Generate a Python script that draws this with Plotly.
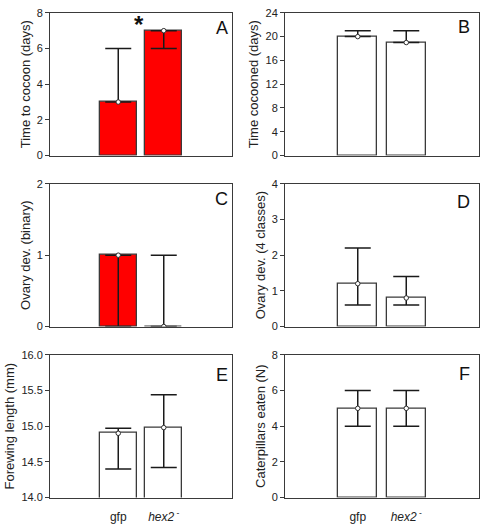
import plotly.graph_objects as go

# ---- data ----
groups = [1, 2]
group_labels = ["gfp", "<i>hex2</i><sup> -</sup>"]

cocoon_time = [3, 7]
cocoon_time_lo = [3, 6]
cocoon_time_hi = [6, 7]

time_cocooned = [20, 19]
time_cocooned_lo = [20, 19]
time_cocooned_hi = [21, 21]

ovary_binary = [1, 0]
ovary_binary_lo = [0, 0]
ovary_binary_hi = [1, 1]

ovary_classes = [1.2, 0.8]
ovary_classes_lo = [0.6, 0.6]
ovary_classes_hi = [2.2, 1.4]

forewing = [14.9, 14.98]
forewing_lo = [14.4, 14.42]
forewing_hi = [14.97, 15.44]

caterpillars = [5, 5]
caterpillars_lo = [4, 4]
caterpillars_hi = [6, 6]

panels = [
    dict(letter="A", y=cocoon_time, lo=cocoon_time_lo, hi=cocoon_time_hi,
         title="Time to cocoon (days)", rng=[0, 8], ticks=[0, 2, 4, 6, 8], fmt="", fill="#ff0000", ly=15.5),
    dict(letter="B", y=time_cocooned, lo=time_cocooned_lo, hi=time_cocooned_hi,
         title="Time cocooned (days)", rng=[0, 24], ticks=[0, 4, 8, 12, 16, 20, 24], fmt="", fill="#ffffff", ly=14.5),
    dict(letter="C", y=ovary_binary, lo=ovary_binary_lo, hi=ovary_binary_hi,
         title="Ovary dev. (binary)", rng=[0, 2], ticks=[0, 1, 2], fmt="", fill="#ff0000", ly=16),
    dict(letter="D", y=ovary_classes, lo=ovary_classes_lo, hi=ovary_classes_hi,
         title="Ovary dev. (4 classes)", rng=[0, 4], ticks=[0, 1, 2, 3, 4], fmt="", fill="#ffffff", ly=18.5),
    dict(letter="E", y=forewing, lo=forewing_lo, hi=forewing_hi,
         title="Forewing length (mm)", rng=[14, 16], ticks=[14.0, 14.5, 15.0, 15.5, 16.0], fmt=".1f", fill="#ffffff", ly=20.5),
    dict(letter="F", y=caterpillars, lo=caterpillars_lo, hi=caterpillars_hi,
         title="Caterpillars eaten (N)", rng=[0, 8], ticks=[0, 2, 4, 6, 8], fmt="", fill="#ffffff", ly=20),
]

W, H = 483, 525
col_px = [(50, 232), (285, 479)]
row_px = [(7, 153), (182, 328), (357, 503)]
letter_right = [229, 471]

fig = go.Figure()
line_col = "#3a3a3a"
FONT = "Liberation Sans, Arial, sans-serif"

for i, p in enumerate(panels):
    r, c = divmod(i, 2)
    n = i + 1
    xa = "x" if n == 1 else f"x{n}"
    ya = "y" if n == 1 else f"y{n}"
    err_plus = [h - v for h, v in zip(p["hi"], p["y"])]
    err_minus = [v - l for v, l in zip(p["y"], p["lo"])]
    fig.add_trace(go.Bar(
        x=groups, y=p["y"], width=0.81, xaxis=xa, yaxis=ya,
        marker=dict(color=p["fill"], line=dict(color=line_col, width=1.3)),
        showlegend=False,
    ))
    fig.add_trace(go.Scatter(
        x=groups, y=p["y"], xaxis=xa, yaxis=ya, mode="markers",
        marker=dict(symbol="circle", size=4.5, color="white", line=dict(color="#303030", width=1)),
        error_y=dict(type="data", symmetric=False, array=err_plus, arrayminus=err_minus,
                     color="#1a1a1a", thickness=1.5, width=13),
        showlegend=False,
    ))
    x0, x1 = col_px[c]
    y0, y1 = row_px[r]
    xkey = "xaxis" if n == 1 else f"xaxis{n}"
    ykey = "yaxis" if n == 1 else f"yaxis{n}"
    fig.layout[xkey] = dict(
        domain=[x0 / W, x1 / W], anchor=ya, range=[-0.5, 3.5],
        tickvals=groups, ticktext=group_labels, showticklabels=(r == 2),
        ticks="", ticklabelstandoff=8, showgrid=False, zeroline=False, showline=True, mirror=True,
        linecolor=line_col, linewidth=1, fixedrange=True,
        tickfont=dict(size=12, color="#222222", family=FONT),
    )
    fig.layout[ykey] = dict(
        domain=[1 - y1 / H, 1 - y0 / H], anchor=xa, range=p["rng"],
        tickvals=p["ticks"], tickformat=p["fmt"], ticks="outside", ticklen=4,
        tickcolor=line_col, showgrid=False, zeroline=False, showline=True, mirror=True,
        linecolor=line_col, linewidth=1,
        tickfont=dict(size=11, color="#222222", family=FONT),
        title=dict(text=p["title"], font=dict(size=13, color="#222222", family=FONT), standoff=3),
    )
    fig.add_annotation(
        text=p["letter"], xref=f"{xa} domain", yref=f"{ya} domain",
        x=(letter_right[c] + 1 - x0) / (x1 - x0), y=1 - p["ly"] / (y1 - y0),
        xanchor="right", yanchor="middle", showarrow=False,
        font=dict(size=18, color="#111111", family=FONT),
    )

# significance asterisk in panel A
fig.add_annotation(text="<b>*</b>", xref="x", yref="y", x=1.45, y=7.35,
                   xanchor="center", yanchor="middle", showarrow=False,
                   font=dict(size=24, color="#111111", family=FONT))

fig.update_layout(
    width=W, height=H, margin=dict(l=0, r=0, t=0, b=0),
    paper_bgcolor="white", plot_bgcolor="white",
    bargap=0, font=dict(family=FONT),
)

fig.write_html("out.html", config={"displayModeBar": False},
               post_script="document.body.style.margin='0';document.body.style.overflow='hidden';")
